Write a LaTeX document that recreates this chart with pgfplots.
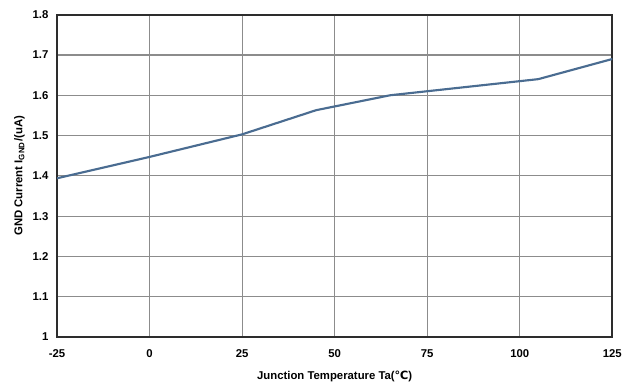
\documentclass[border=0pt]{standalone}
\usepackage{fontspec}
\setmainfont{Liberation Sans}
\newfontfamily\symfont{DejaVu Sans}
\usepackage{pgfplots}
\pgfplotsset{compat=1.18}
\definecolor{curveblue}{RGB}{74,108,145}
\definecolor{gridgray}{RGB}{140,140,140}
\definecolor{framegray}{RGB}{45,45,45}
\begin{document}
\begin{tikzpicture}
\begin{axis}[
  scale only axis,
  width=416pt, height=241.5pt,
  xmin=-25, xmax=125, ymin=1, ymax=1.8,
  xtick={-25,0,25,50,75,100,125},
  ytick={1,1.1,1.2,1.3,1.4,1.5,1.6,1.7,1.8},
  yticklabels={1,1.1,1.2,1.3,1.4,1.5,1.6,1.7,1.8},
  grid=major,
  major grid style={gridgray, line width=0.8pt},
  major tick length=0pt,
  axis line style={framegray, line width=1.5pt},
  /pgf/number format/assume math mode=true,
  tick label style={font=\fontsize{8.5}{10}\selectfont\bfseries},
  xticklabel style={yshift=-6pt},
  yticklabel style={xshift=-3pt},
  label style={font=\fontsize{8.5}{10}\selectfont\bfseries},
  xlabel={Junction Temperature Ta({\symfont\bfseries ℃})},
  ylabel={GND Current I\textsubscript{GND}/(uA)},
  xlabel style={yshift=-3pt},
  ylabel style={yshift=-1pt},
]
\addplot[curveblue, line width=1.6pt] coordinates {
  (-25,1.394) (0,1.447) (25,1.503) (45,1.563) (65,1.600) (105,1.640) (125,1.690)
};
\end{axis}
\path (current axis.south west) ++(-42.75pt,-39pt) coordinate (bl);
\path (current axis.north east) ++(17pt,11pt) coordinate (tr);
\path (bl) rectangle (tr);
\end{tikzpicture}
\end{document}
